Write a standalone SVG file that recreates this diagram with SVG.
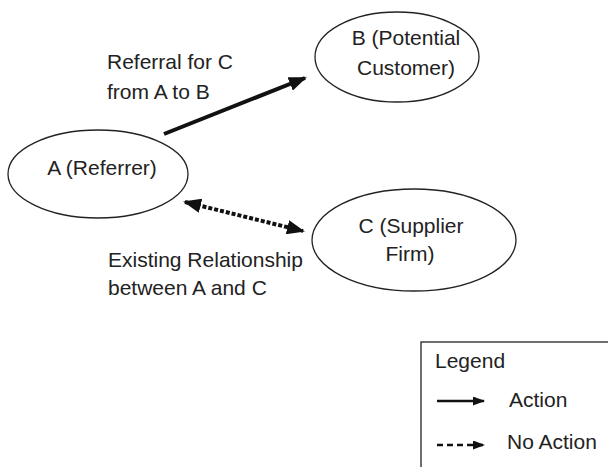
<svg xmlns="http://www.w3.org/2000/svg" width="608" height="467" viewBox="0 0 608 467">
<style>
text{font-family:"Liberation Sans",Arial,sans-serif;font-size:21px;fill:#222}
.node ellipse{fill:#fff;stroke:#222;stroke-width:1.3}
.c{text-anchor:middle}
.solid{stroke:#111;stroke-width:4;fill:none}
.dot{stroke:#111;stroke-width:4;fill:none;stroke-dasharray:4 2}
</style>
<defs>
<marker id="ah" markerWidth="4.5" markerHeight="3.6" refX="4" refY="1.8" orient="auto" markerUnits="strokeWidth"><path d="M0,0 L4.5,1.8 L0,3.6 z" fill="#111"/></marker>
<marker id="ahs" markerWidth="4.5" markerHeight="3.6" refX="0.5" refY="1.8" orient="auto" markerUnits="strokeWidth"><path d="M4.5,0 L0,1.8 L4.5,3.6 z" fill="#111"/></marker>
<marker id="lh" markerWidth="12" markerHeight="9" refX="11" refY="4.5" orient="auto" markerUnits="userSpaceOnUse"><path d="M0,0 L12,4.5 L0,9 z" fill="#111"/></marker>
</defs>
<rect width="608" height="467" fill="#fff"/>
<g id="node-A" class="node"><ellipse cx="98" cy="174" rx="90" ry="44"/><text class="c" x="102" y="175">A (Referrer)</text></g>
<g id="node-B" class="node"><ellipse cx="397" cy="57" rx="82" ry="45"/><text class="c" x="406" y="45">B (Potential</text><text class="c" x="406" y="75">Customer)</text></g>
<g id="node-C" class="node"><ellipse cx="414" cy="240" rx="102" ry="51"/><text class="c" x="411" y="233">C (Supplier</text><text class="c" x="410" y="261">Firm)</text></g>
<g id="connectors">
<line class="solid" x1="164" y1="134" x2="305" y2="78" marker-end="url(#ah)"/>
<line class="dot" x1="185" y1="202" x2="303" y2="231" marker-start="url(#ahs)" marker-end="url(#ah)"/>
</g>
<g id="labels">
<text x="107" y="69">Referral for C</text>
<text x="107" y="99">from A to B</text>
<text x="108" y="267">Existing Relationship</text>
<text x="108" y="295">between A and C</text>
</g>
<g id="legend">
<rect x="421" y="342" width="220" height="150" fill="none" stroke="#222" stroke-width="1.3"/>
<text x="435" y="368">Legend</text>
<line x1="437" y1="401" x2="484" y2="401" stroke="#111" stroke-width="2.5" marker-end="url(#lh)"/>
<text x="509" y="407">Action</text>
<line x1="437" y1="445" x2="484" y2="445" stroke="#111" stroke-width="2.5" stroke-dasharray="6 4" marker-end="url(#lh)"/>
<text x="507" y="449">No Action</text>
</g>
</svg>
